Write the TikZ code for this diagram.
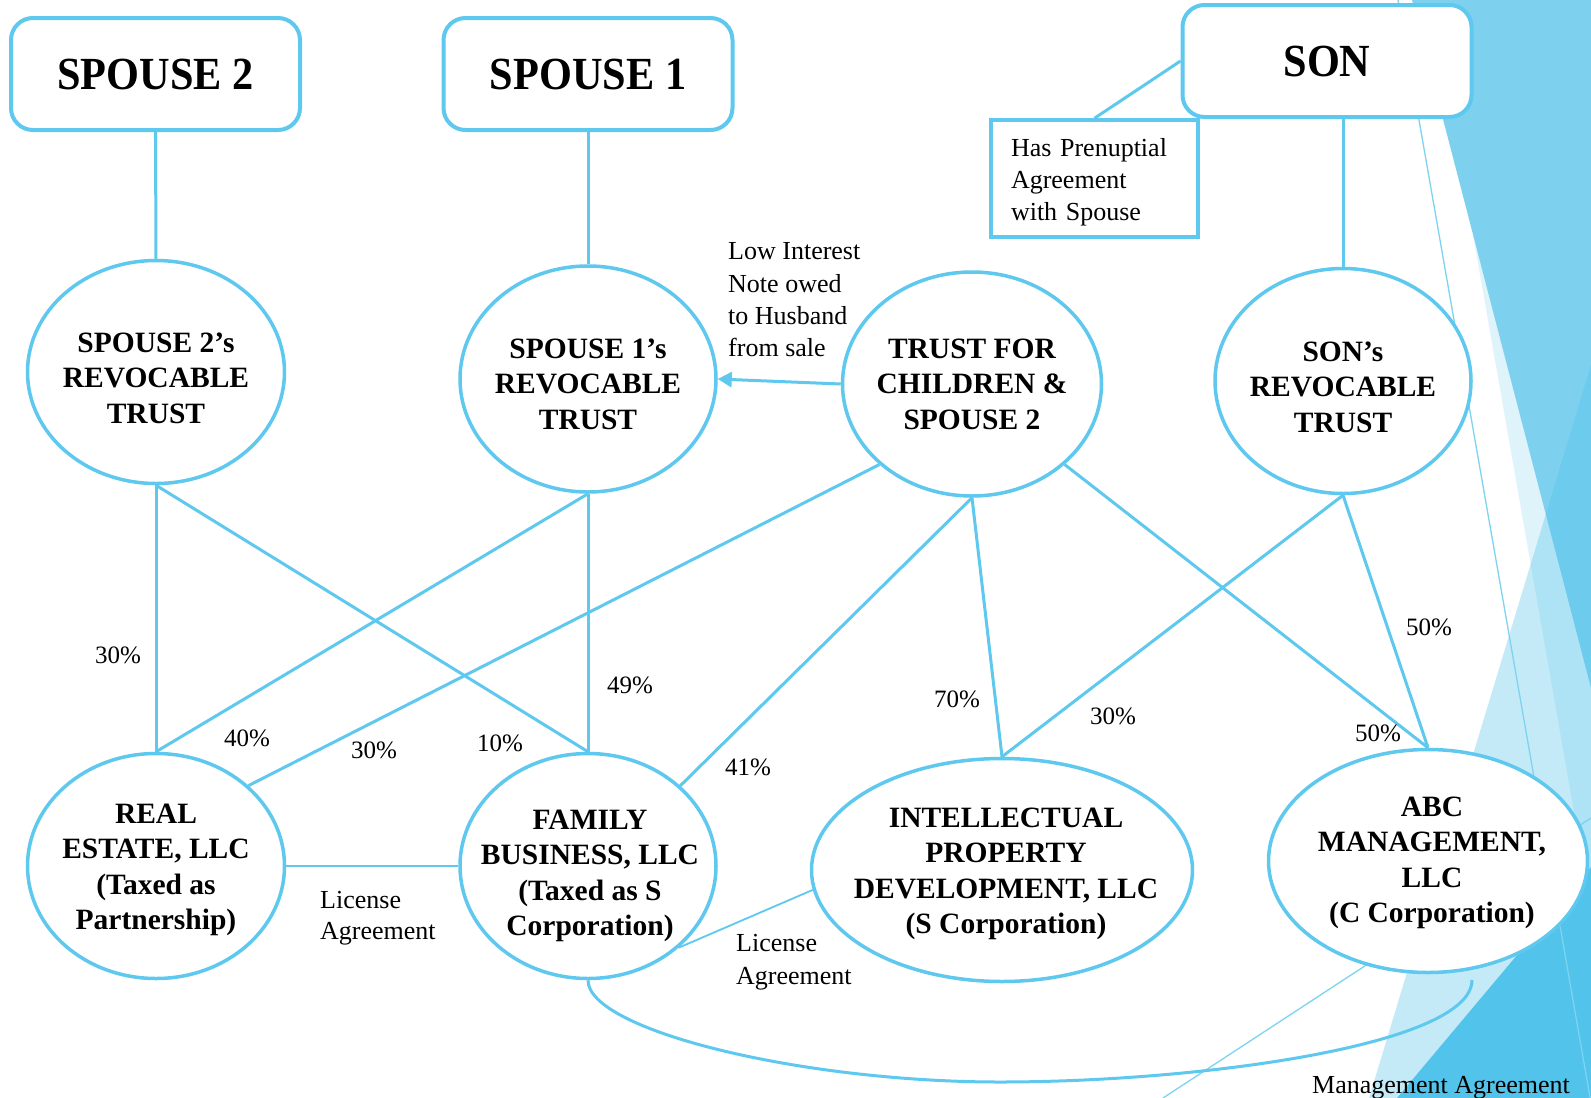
\documentclass[tikz,border=0pt]{standalone}
\usepackage{fontspec}
\setmainfont{Liberation Serif}
\usetikzlibrary{shapes.geometric,arrows.meta}

\definecolor{linkblue}{RGB}{94,200,238}
\definecolor{facetpale}{RGB}{223,243,251}
\definecolor{facetmid}{RGB}{126,208,239}
\definecolor{facetwash}{RGB}{76,193,234}
\definecolor{facetdeep}{RGB}{82,195,234}
\definecolor{facetthin}{RGB}{125,211,240}

\begin{document}
\begin{tikzpicture}[x=1pt,y=-1pt,
  titlebox/.style={draw=linkblue,line width=4pt,rounded corners=22pt,fill=white,
    minimum width=289pt,minimum height=112pt,inner sep=0pt,
    font=\fontsize{46}{55}\selectfont\bfseries},
  notebox/.style={draw=linkblue,line width=3.5pt,fill=white,minimum width=207pt,
    minimum height=117pt,inner xsep=20pt,inner ysep=0pt,text width=167pt,align=left,
    text height=25pt,font=\fontsize{26}{32}\selectfont},
  oval/.style={ellipse,draw=linkblue,line width=3.5pt,fill=white,inner sep=0pt},
  ovaltext/.style={align=center,inner sep=0pt,font=\fontsize{29.5}{35.5}\selectfont\bfseries},
  link/.style={draw=linkblue,line width=3pt},
  thinlink/.style={draw=linkblue,line width=1.8pt},
  pct/.style={inner sep=0pt,font=\fontsize{25}{30}\selectfont},
  remark/.style={inner sep=0pt,align=left,font=\fontsize{26}{32.3}\selectfont},
  facetline/.style={draw=facetthin,line width=1.3pt}
]
\useasboundingbox (0,0) rectangle (1591,1098);
\fill[white] (0,0) rectangle (1591,1098);

% facet decoration along the right edge
\begin{scope}
  \clip (0,0) rectangle (1591,1098);
  \fill[facetpale] (1432,0) -- (1591,0) -- (1591,909) -- cycle;
  \fill[facetmid] (1412,0) -- (1591,0) -- (1591,688) -- cycle;
  \fill[facetwash,fill opacity=0.33] (1369,1098) -- (1591,365) -- (1591,1098) -- cycle;
  \fill[facetdeep] (1397,1098) -- (1591,867) -- (1591,1098) -- cycle;
  \draw[facetline] (1398,0) -- (1591,1103);
  \draw[facetline] (1163,1098) -- (1591,818);
\end{scope}

% people
\node[titlebox] (spouse2) at (155.5,74) {\scalebox{0.92}[1]{SPOUSE 2}};
\node[titlebox] (spouse1) at (588,74) {\scalebox{0.92}[1]{SPOUSE 1}};
\node[titlebox] (son) at (1327,61) {\scalebox{0.92}[1]{SON}};
\node[notebox] (prenup) at (1094.5,178.5) {Has Prenuptial\\Agreement\\with Spouse};

% trusts
\node[oval,minimum width=257pt,minimum height=223pt] (s2t) at (156,372) {};
\node[oval,minimum width=256pt,minimum height=226pt] (s1t) at (588,379) {};
\node[oval,minimum width=259pt,minimum height=224pt] (tfc) at (972,384) {};
\node[oval,minimum width=256pt,minimum height=225pt] (sont) at (1343,381) {};

% companies
\node[oval,minimum width=257pt,minimum height=225pt] (re) at (156,866) {};
\node[oval,minimum width=256pt,minimum height=225pt] (fb) at (588,866) {};
\node[oval,minimum width=381pt,minimum height=223pt] (ip) at (1002,870) {};
\node[oval,minimum width=319pt,minimum height=223pt] (abc) at (1428,861) {};

% oval captions
\node[ovaltext] (s2t-text) at (156,378) {SPOUSE 2’s\\REVOCABLE\\TRUST};
\node[ovaltext] (s1t-text) at (588,384) {SPOUSE 1’s\\REVOCABLE\\TRUST};
\node[ovaltext] (tfc-text) at (972,384) {TRUST FOR\\CHILDREN \&\\SPOUSE 2};
\node[ovaltext] (sont-text) at (1343,387) {SON’s\\REVOCABLE\\TRUST};
\node[ovaltext] (re-text) at (156,870) {REAL\\ESTATE, LLC\\(Taxed as\\Partnership)};
\node[ovaltext] (fb-text) at (590,876) {FAMILY\\BUSINESS, LLC\\(Taxed as S\\Corporation)};
\node[ovaltext] (ip-text) at (1006,874) {INTELLECTUAL\\PROPERTY\\DEVELOPMENT, LLC\\(S Corporation)};
\node[ovaltext] (abc-text) at (1432,863) {ABC\\MANAGEMENT,\\LLC\\(C Corporation)};

% people to their trusts
\draw[link] (spouse2.south) -- (s2t.north);
\draw[link] (spouse1.south) -- (s1t.north);
\draw[link] (son.south -| sont.north) -- (sont.north);
\draw[link] (prenup.north) -- (son.west);

% ownership
\draw[link] (s2t.south) -- (re.north);
\draw[link] (s2t.south) -- (fb.north);
\draw[link] (s1t.south) -- (re.north);
\draw[link] (s1t.south) -- (fb.north);
\draw[link] (tfc.221) -- (re.41);
\draw[link] (tfc.south) -- (fb.41);
\draw[link] (tfc.south) -- (ip.north);
\draw[link] (tfc.319) -- (abc.north);
\draw[link] (sont.south) -- (ip.north);
\draw[link] (sont.south) -- (abc.north);

% note owed
\draw[link,-{Triangle[length=14pt,width=15pt]}] (tfc.west) -- (s1t.east);

% license agreements
\draw[thinlink] (re.east) -- (fb.west);
\draw[thinlink] (ip.186) -- (fb.-42);

% management agreement
\coordinate (curvelow) at (1000,1082);
\coordinate (mgmtend) at (1472,980);
\draw[link] (fb.south) .. controls (588,1030) and (800,1082) .. (curvelow)
  .. controls (1200,1082) and (1472,1045) .. (mgmtend);

% percentages
\node[pct] (pa) at (118,655) {30\%};
\node[pct] (pb) at (500,743) {10\%};
\node[pct] (pc) at (247,738) {40\%};
\node[pct] (pd) at (630,685) {49\%};
\node[pct] (pe) at (374,750) {30\%};
\node[pct] (pf) at (748,767) {41\%};
\node[pct] (pg) at (957,699) {70\%};
\node[pct] (ph) at (1378,733) {50\%};
\node[pct] (pi) at (1113,716) {30\%};
\node[pct] (pj) at (1429,627) {50\%};

% remarks
\node[remark,anchor=west] (loan) at (728,300) {Low Interest\\Note owed\\to Husband\\from sale};
\node[remark,anchor=west,font=\fontsize{26}{31.5}\selectfont] (lic1) at (320,918) {License\\Agreement};
\node[remark,anchor=west,font=\fontsize{26}{32.5}\selectfont] (lic2) at (736,962) {License\\Agreement};
\node[remark,anchor=base west] (mgmt) at (1312,1093) {Management Agreement};
\end{tikzpicture}
\end{document}
